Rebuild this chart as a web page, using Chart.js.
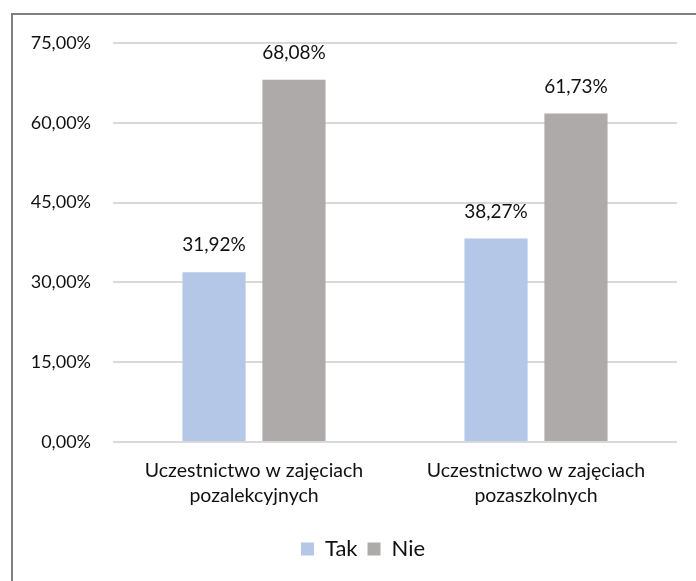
<!DOCTYPE html>
<html>
<head>
<meta charset="utf-8">
<script src="https://cdn.jsdelivr.net/npm/chart.js@4"></script>
<style>
  html, body { margin: 0; padding: 0; background: #fff; overflow: hidden; }
  #frame {
    position: absolute; left: 11px; top: 13px;
    width: 720px; height: 566px;
    border-left: 2px solid #7f7f7f; border-top: 2px solid #7f7f7f;
  }
</style>
</head>
<body>
<div id="frame"><canvas id="myChart" width="720" height="566"></canvas></div>
<script>
const categories = [
  ['Uczestnictwo w zajęciach', 'pozalekcyjnych'],
  ['Uczestnictwo w zajęciach', 'pozaszkolnych'],
];
const takValues = [31.92, 38.27];
const nieValues = [68.08, 61.73];
const yMin = 0, yMax = 75, yStep = 15;

const FONT = 'Lato, "Open Sans", sans-serif';
const TEXT = '#111';
const fmt = (v) => v.toFixed(2).replace('.', ',') + '%';

// labels above the bars + nudge legend to the right
const valueLabels = {
  id: 'valueLabels',
  afterLayout(chart) {
    if (chart.legend) chart.legend.left = 36;
  },
  afterDatasetsDraw(chart) {
    const { ctx } = chart;
    ctx.save();
    ctx.font = '19px ' + FONT;
    ctx.fillStyle = TEXT;
    ctx.textAlign = 'center';
    ctx.textBaseline = 'middle';
    chart.data.datasets.forEach((ds, i) => {
      chart.getDatasetMeta(i).data.forEach((bar, j) => {
        ctx.fillText(fmt(ds.data[j]), bar.x, bar.y - 27);
      });
    });
    ctx.restore();
  },
};

const ctx = document.getElementById('myChart');

new Chart(ctx, {
  type: 'bar',
  data: {
    labels: categories,
    datasets: [
      { label: 'Tak', data: takValues, backgroundColor: '#b4c7e7' },
      { label: 'Nie', data: nieValues, backgroundColor: '#aeaaaa' },
    ],
  },
  options: {
    responsive: false,
    animation: false,
    categoryPercentage: 0.567,
    barPercentage: 0.79,
    layout: { padding: { top: 28, right: 56, bottom: 11, left: 0 } },
    plugins: {
      legend: {
        position: 'bottom',
        labels: {
          boxWidth: 13, boxHeight: 13, padding: 10,
          color: TEXT, font: { family: FONT, size: 22 },
        },
      },
      tooltip: { enabled: false },
    },
    scales: {
      x: {
        grid: { display: false },
        border: { display: false },
        ticks: {
          color: TEXT, padding: 8,
          font: { family: FONT, size: 19.5, lineHeight: 1.28 },
        },
        afterFit(scale) { scale.height = 86; },
      },
      y: {
        min: yMin, max: yMax,
        grid: { color: '#d9d9d9', lineWidth: 2, drawTicks: false },
        border: { display: false },
        ticks: {
          stepSize: yStep, padding: 22, color: TEXT,
          font: { family: FONT, size: 18, lineHeight: 0.6 },
          callback: (v) => fmt(v),
        },
        afterFit(scale) { scale.width = 100; },
      },
    },
  },
  plugins: [valueLabels],
});
</script>
</body>
</html>
